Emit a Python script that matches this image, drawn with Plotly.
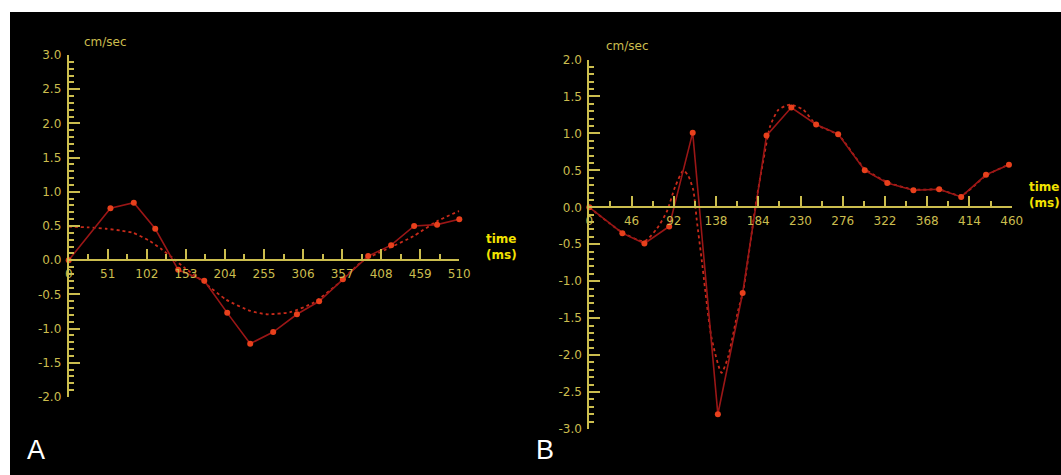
import plotly.graph_objects as go

W, H = 1061, 475

# ---------------- data ----------------
# Panel A (ms, cm/sec)
a_meas_t = [0, 54.5, 85, 113, 143, 177, 207, 237, 267, 298, 327, 358, 391, 421, 451, 481, 510]
a_meas_v = [0.0, 0.76, 0.84, 0.46, -0.14, -0.30, -0.77, -1.22, -1.05, -0.79, -0.60, -0.28, 0.06, 0.22, 0.50, 0.52, 0.60]
a_fit_t = [0, 25, 49, 70, 84, 106, 120, 136, 150, 175, 206, 237, 258, 289, 320, 350, 384, 415, 450, 481, 510]
a_fit_v = [0.49, 0.48, 0.46, 0.43, 0.40, 0.28, 0.17, 0.03, -0.10, -0.31, -0.58, -0.74, -0.79, -0.76, -0.62, -0.36, -0.01, 0.16, 0.35, 0.57, 0.72]

# Panel B
b_meas_t = [0, 36, 60, 87, 112.6, 140, 167, 193, 220, 247, 271, 300, 324.5, 353, 381, 405, 432, 457]
b_meas_v = [0.0, -0.35, -0.49, -0.26, 1.01, -2.80, -1.16, 0.97, 1.35, 1.12, 0.99, 0.50, 0.33, 0.23, 0.245, 0.14, 0.44, 0.575]
b_fit_t = [0, 36, 60, 73.5, 84.4, 93.5, 102.6, 108, 113.3, 117, 122.4, 133, 144, 151, 162, 167.6, 182, 189.6, 197, 206, 218.6, 233, 247, 271, 300, 324.5, 353, 381, 405, 432, 457]
b_fit_v = [0.0, -0.34, -0.46, -0.29, -0.06, 0.28, 0.50, 0.42, 0.23, -0.17, -0.71, -1.76, -2.24, -2.03, -1.40, -1.13, 0.10, 0.64, 1.10, 1.32, 1.39, 1.32, 1.12, 0.98, 0.52, 0.34, 0.24, 0.24, 0.16, 0.43, 0.58]

# ticks
a_xticks = [0, 51, 102, 153, 204, 255, 306, 357, 408, 459, 510]
a_xlabels = ["0", "51", "102", "153", "204", "255", "306", "357", "408", "459", "510"]
a_yticks = [-2.0, -1.5, -1.0, -0.5, 0.0, 0.5, 1.0, 1.5, 2.0, 2.5, 3.0]
a_ylabels = ["-2.0", "-1.5", "-1.0", "-0.5", "0.0", "0.5", "1.0", "1.5", "2.0", "2.5", "3.0"]
b_xticks = [0, 46, 92, 138, 184, 230, 276, 322, 368, 414, 460]
b_xlabels = ["0", "46", "92", "138", "184", "230", "276", "322", "368", "414", "460"]
b_yticks = [-3.0, -2.5, -2.0, -1.5, -1.0, -0.5, 0.0, 0.5, 1.0, 1.5, 2.0]
b_ylabels = ["-3.0", "-2.5", "-2.0", "-1.5", "-1.0", "-0.5", "0.0", "0.5", "1.0", "1.5", "2.0"]

# ---------------- style ----------------
AX = "#cbbd4e"
LINE = "#9a1616"
MARK = "#e8401c"
FIT = "#c82a1a"
FONT = "DejaVu Sans"

def px_x(p):
    return p / W

def px_y(p):
    return (H - p) / H

fig = go.Figure()

def add_panel(t_fit, v_fit, t_meas, v_meas, xa, ya):
    fig.add_trace(go.Scatter(x=t_fit, y=v_fit, mode="lines", xaxis=xa, yaxis=ya,
                             line=dict(color=FIT, width=1.8, dash="3px,3px", shape="spline", smoothing=0.6),
                             cliponaxis=False, hoverinfo="skip"))
    fig.add_trace(go.Scatter(x=t_meas, y=v_meas, mode="lines+markers", xaxis=xa, yaxis=ya,
                             line=dict(color=LINE, width=1.6),
                             marker=dict(color=MARK, size=6),
                             cliponaxis=False, hoverinfo="skip"))

add_panel(a_fit_t, a_fit_v, a_meas_t, a_meas_v, "x", "y")
add_panel(b_fit_t, b_fit_v, b_meas_t, b_meas_v, "x2", "y2")

def xaxis_cfg(dom, rng, pos, vals, labels, minor_dt):
    return dict(domain=dom, range=rng, anchor="free", position=pos, automargin=False,
                showline=True, linecolor=AX, linewidth=2,
                ticks="inside", ticklen=10, tickwidth=2, tickcolor=AX,
                tickmode="array", tickvals=vals, ticktext=labels,
                minor=dict(ticks="inside", ticklen=5, tickwidth=2, tickcolor=AX,
                           tickmode="linear", tick0=0, dtick=minor_dt, showgrid=False),
                tickfont=dict(family=FONT, size=12, color=AX),
                ticklabelstandoff=2,
                showgrid=False, zeroline=False, fixedrange=True)

def yaxis_cfg(dom, rng, anchor, vals, labels):
    return dict(domain=dom, range=rng, anchor=anchor, automargin=False,
                showline=True, linecolor=AX, linewidth=2,
                ticks="inside", ticklen=11, tickwidth=2, tickcolor=AX,
                tickmode="array", tickvals=vals, ticktext=labels,
                minor=dict(ticks="inside", ticklen=5, tickwidth=2, tickcolor=AX,
                           tickmode="linear", tick0=0, dtick=0.1, showgrid=False),
                tickfont=dict(family=FONT, size=12, color=AX),
                ticklabelstandoff=3,
                showgrid=False, zeroline=False, fixedrange=True)

# Panel A geometry (pixels)
a_x0, a_x1 = 68.7, 459.3
a_ytop, a_ybot = 55.0, 397.0
a_zero = a_ytop + (a_ybot - a_ytop) * 3.0 / 5.0
# Panel B geometry
b_x0, b_x1 = 589.3, 1011.7
b_ytop, b_ybot = 59.5, 429.0
b_zero = b_ytop + (b_ybot - b_ytop) * 2.0 / 5.0

fig.update_layout(
    width=W, height=H, autosize=False,
    margin=dict(l=0, r=0, t=0, b=0, pad=0, autoexpand=False),
    paper_bgcolor="white", plot_bgcolor="black",
    showlegend=False,
    xaxis=xaxis_cfg([px_x(a_x0), px_x(a_x1)], [0, 510], px_y(a_zero), a_xticks, a_xlabels, 25.5),
    yaxis=yaxis_cfg([px_y(a_ybot), px_y(a_ytop)], [-2.0, 3.0], "x", a_yticks, a_ylabels),
    xaxis2=xaxis_cfg([px_x(b_x0), px_x(b_x1)], [0, 460], px_y(b_zero), b_xticks, b_xlabels, 23),
    yaxis2=yaxis_cfg([px_y(b_ybot), px_y(b_ytop)], [-3.0, 2.0], "x2", b_yticks, b_ylabels),
    shapes=[dict(type="rect", xref="paper", yref="paper", x0=px_x(10), x1=1.0, y0=0.0, y1=px_y(12),
                 fillcolor="black", line=dict(width=0), layer="below")],
)

ann = []
for x, y, txt in [(82, 42, "cm/sec"), (604, 46, "cm/sec")]:
    ann.append(dict(xref="paper", yref="paper", x=px_x(x), y=px_y(y), xanchor="left", yanchor="middle",
                    text=txt, showarrow=False, font=dict(family=FONT, size=12, color=AX)))
for x, y in [(484, 247), (1027, 194.5)]:
    ann.append(dict(xref="paper", yref="paper", x=px_x(x), y=px_y(y), xanchor="left", yanchor="middle",
                    text="<b>time</b><br><b>(ms)</b>", align="left", showarrow=False,
                    font=dict(family=FONT, size=12, color="#f2e200")))
for x, y, txt in [(35.5, 450, "A"), (545, 450, "B")]:
    ann.append(dict(xref="paper", yref="paper", x=px_x(x), y=px_y(y), xanchor="center", yanchor="middle",
                    text=txt, showarrow=False, font=dict(family="Liberation Sans", size=27, color="white")))
fig.update_layout(annotations=ann)

# remove the page's default body margin so the figure fills the window exactly
fig.write_html("out.html",
               config={"displayModeBar": False, "staticPlot": True},
               post_script="document.body.style.margin='0';document.body.style.overflow='hidden';")
